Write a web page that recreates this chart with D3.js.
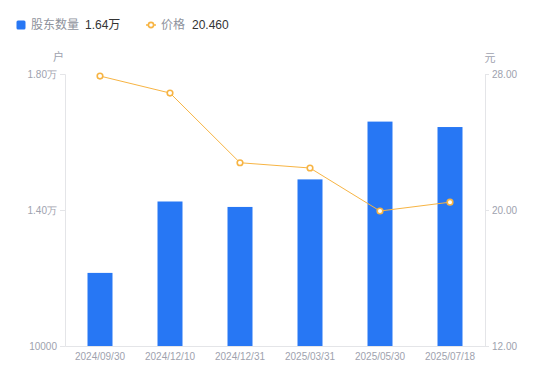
<!DOCTYPE html>
<html><head><meta charset="utf-8">
<script src="https://cdn.jsdelivr.net/npm/d3@7"></script>
<style>
html,body{margin:0;padding:0;background:#fff;}
svg{display:block;font-family:"Liberation Sans","Noto Sans CJK SC",sans-serif;}
</style></head>
<body>
<svg id="chart" width="550" height="381"></svg>
<script>
const categories = ["2024/09/30","2024/12/10","2024/12/31","2025/03/31","2025/05/30","2025/07/18"];
const holders = [12150, 14250, 14090, 14900, 16600, 16440];
const prices = [27.88, 26.88, 22.78, 22.47, 19.94, 20.46];
const leftTicks = [10000, 14000, 18000];
const leftTickLabels = ["10000", "1.40万", "1.80万"];
const rightTicks = [12, 20, 28];
const rightTickLabels = ["12.00", "20.00", "28.00"];
const legendHolderValue = "1.64万";
const legendPriceValue = "20.460";

const svg = d3.select("#chart");
const M = {left: 65, right: 485, top: 74, bottom: 346};
const barColor = "#2777f4", lineColor = "#f7b443", axisColor = "#e4e5e8", textColor = "#9ea2ae";

const x = d3.scaleBand().domain(categories).range([M.left, M.right]).paddingInner(0.643).paddingOuter(0.3215);
const yL = d3.scaleLinear().domain([10000, 18000]).range([M.bottom, M.top]);
const yR = d3.scaleLinear().domain([12, 28]).range([M.bottom, M.top]);

// bars
svg.append("g").selectAll("rect").data(holders).join("rect")
  .attr("x", (d,i) => x(categories[i]))
  .attr("width", x.bandwidth())
  .attr("y", d => yL(d))
  .attr("height", d => M.bottom - yL(d))
  .attr("fill", barColor);

// left axis
const gL = svg.append("g").attr("transform", `translate(${M.left},0)`)
  .call(d3.axisLeft(yL).tickValues(leftTicks).tickFormat((d,i) => leftTickLabels[i]).tickSize(5).tickPadding(3));
gL.select(".domain").attr("stroke", axisColor);
gL.selectAll(".tick line").attr("stroke", axisColor);
gL.selectAll(".tick text").attr("fill", textColor).attr("font-size", 10);

// right axis
const gR = svg.append("g").attr("transform", `translate(${M.right},0)`)
  .call(d3.axisRight(yR).tickValues(rightTicks).tickFormat((d,i) => rightTickLabels[i]).tickSize(4).tickPadding(3));
gR.select(".domain").attr("stroke", axisColor);
gR.selectAll(".tick line").attr("stroke", axisColor);
gR.selectAll(".tick text").attr("fill", textColor).attr("font-size", 10);

// bottom axis
const gB = svg.append("g").attr("transform", `translate(0,${M.bottom})`)
  .call(d3.axisBottom(x).tickSize(0).tickPadding(7));
gB.select(".domain").attr("stroke", axisColor);
gB.selectAll(".tick text").attr("fill", textColor).attr("font-size", 10);

// line
const line = d3.line().x((d,i) => x(categories[i]) + x.bandwidth()/2).y(d => yR(d));
svg.append("path").datum(prices).attr("d", line).attr("fill", "none").attr("stroke", lineColor).attr("stroke-width", 1);
svg.append("g").selectAll("circle").data(prices).join("circle")
  .attr("cx", (d,i) => x(categories[i]) + x.bandwidth()/2)
  .attr("cy", d => yR(d)).attr("r", 2.8)
  .attr("fill", "#fff").attr("stroke", lineColor).attr("stroke-width", 1.6);

// unit labels
svg.append("text").attr("x", 58.5).attr("y", 61).attr("text-anchor", "middle").attr("fill", textColor).attr("font-size", 11).text("户");
svg.append("text").attr("x", 490).attr("y", 62).attr("text-anchor", "middle").attr("fill", textColor).attr("font-size", 11).text("元");

// legend
const lg = svg.append("g");
lg.append("rect").attr("x", 16.5).attr("y", 20.5).attr("width", 9).attr("height", 9).attr("rx", 1.5).attr("fill", barColor);
lg.append("text").attr("x", 31).attr("y", 29).attr("font-size", 12).attr("fill", "#8e929c").text("股东数量");
lg.append("text").attr("x", 85).attr("y", 29).attr("font-size", 12).attr("fill", "#333").text(legendHolderValue);
lg.append("line").attr("x1", 146).attr("x2", 156).attr("y1", 25).attr("y2", 25).attr("stroke", lineColor).attr("stroke-width", 1.5);
lg.append("circle").attr("cx", 151).attr("cy", 25).attr("r", 2.6).attr("fill", "#fff").attr("stroke", lineColor).attr("stroke-width", 1.6);
lg.append("text").attr("x", 161).attr("y", 29).attr("font-size", 12).attr("fill", "#8e929c").text("价格");
lg.append("text").attr("x", 192).attr("y", 29).attr("font-size", 12).attr("fill", "#333").text(legendPriceValue);
</script>
</body></html>
